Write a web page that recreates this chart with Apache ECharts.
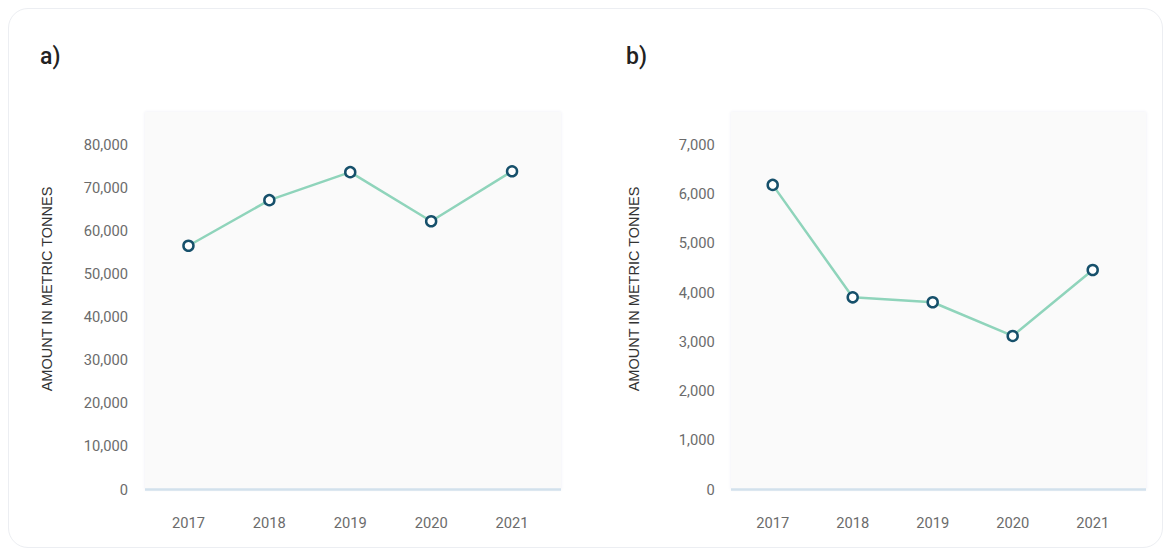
<!DOCTYPE html>
<html>
<head>
<meta charset="utf-8">
<script src="https://cdn.jsdelivr.net/npm/echarts@6/dist/echarts.min.js"></script>
<style>
  html, body { margin: 0; padding: 0; background: #ffffff; }
  #card { position: absolute; left: 8px; top: 8px; width: 1155px; height: 540px;
          border: 1px solid #eceef2; border-radius: 20px; box-sizing: border-box; }
  #chart { position: absolute; left: 0; top: 0; width: 1173px; height: 558px; }
</style>
</head>
<body>
<div id="card"></div>
<div id="chart"></div>
<script>
// ---- data ----
const years = ['2017', '2018', '2019', '2020', '2021'];
const seriesA = [56600, 67200, 73700, 62300, 73900];
const seriesB = [6190, 3905, 3805, 3120, 4460];
const ticksA = [0, 10000, 20000, 30000, 40000, 50000, 60000, 70000, 80000];
const ticksB = [0, 1000, 2000, 3000, 4000, 5000, 6000, 7000];
const panelTitles = ['a)', 'b)'];
const axisName = 'AMOUNT IN METRIC TONNES';

// ---- styles ----
const FONT = 'Roboto, "Noto Sans", sans-serif';
const LABEL_COLOR = '#6b6b6b';
const LINE_COLOR = '#8fd4bb';
const MARK_BORDER = '#16506b';
const PLOT_TOP = 112, PLOT_BOTTOM = 489.5;

const chart = echarts.init(document.getElementById('chart'), null, { renderer: 'svg' });
const fmt = v => v.toLocaleString('en-US');

function yAxis(gridIndex, max, ticks, margin) {
  return {
    type: 'value', gridIndex: gridIndex, min: 0, max: max,
    axisLine: { show: false }, axisTick: { show: false }, splitLine: { show: false },
    axisLabel: { customValues: ticks, formatter: v => fmt(v), color: LABEL_COLOR,
                 fontSize: 14.7, fontFamily: FONT, margin: margin }
  };
}
function xAxis(gridIndex) {
  return {
    type: 'category', gridIndex: gridIndex, data: years, boundaryGap: true,
    axisLine: { show: false }, axisTick: { show: false }, splitLine: { show: false },
    axisLabel: { color: LABEL_COLOR, fontSize: 14.7, fontFamily: FONT, margin: 26 }
  };
}
function lineSeries(idx, data) {
  return {
    type: 'line', xAxisIndex: idx, yAxisIndex: idx, data: data, z: 3,
    symbol: 'circle', symbolSize: 10, showSymbol: true,
    lineStyle: { color: LINE_COLOR, width: 2.5 },
    itemStyle: { color: '#ffffff', borderColor: MARK_BORDER, borderWidth: 2.5 },
    emphasis: { disabled: true }
  };
}
function panelBg(x, w) {
  return [
    { type: 'rect', z: 0, shape: { x: x, y: PLOT_TOP, width: w, height: PLOT_BOTTOM - PLOT_TOP },
      style: { fill: '#fafafa', shadowBlur: 3, shadowColor: 'rgba(40,70,130,0.08)' } },
    { type: 'line', z: 1, shape: { x1: x, y1: PLOT_BOTTOM, x2: x + w, y2: PLOT_BOTTOM },
      style: { stroke: '#d2e1ec', lineWidth: 2.5 } }
  ];
}
function nameText(x, y) {
  return { type: 'text', z: 2, x: x, y: y, rotation: Math.PI / 2,
    style: { text: axisName, fill: '#333333', fontSize: 14.5,
             fontFamily: '"Liberation Sans", Arial, sans-serif',
             align: 'center', verticalAlign: 'middle' } };
}

chart.setOption({
  animation: false,
  title: [
    { text: panelTitles[0], left: 35, top: 40,
      textStyle: { fontSize: 23, fontWeight: 500, color: '#222', fontFamily: FONT } },
    { text: panelTitles[1], left: 621, top: 40,
      textStyle: { fontSize: 23, fontWeight: 500, color: '#222', fontFamily: FONT } }
  ],
  graphic: [].concat(panelBg(145, 416), panelBg(731, 415),
                     [nameText(47, 289), nameText(634, 289)]),
  grid: [
    { left: 148, right: 620.5, top: PLOT_TOP, bottom: 558 - PLOT_BOTTOM },
    { left: 732.7, right: 40.3, top: PLOT_TOP, bottom: 558 - PLOT_BOTTOM }
  ],
  xAxis: [xAxis(0), xAxis(1)],
  yAxis: [yAxis(0, 87670, ticksA, 20), yAxis(1, 7671, ticksB, 18)],
  series: [lineSeries(0, seriesA), lineSeries(1, seriesB)]
});
</script>
</body>
</html>
